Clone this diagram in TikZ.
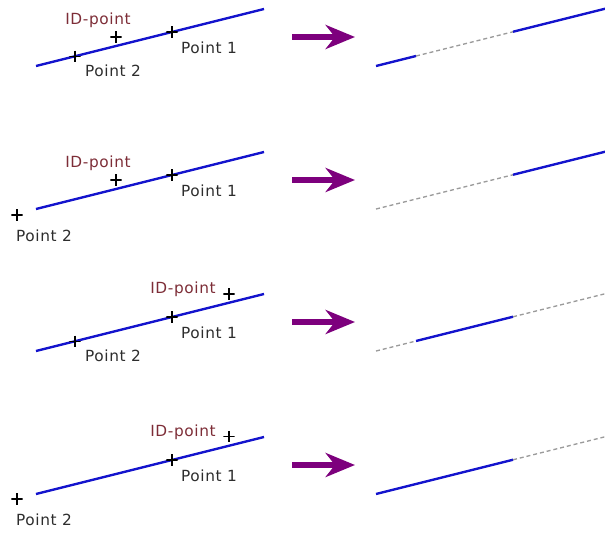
\documentclass[tikz,border=0pt]{standalone}
\usepackage{fontspec}
\newfontfamily\lblfont[LetterSpace=4]{DejaVu Sans}
\usetikzlibrary{arrows.meta}

\definecolor{lineblue}{RGB}{20,20,205}
\definecolor{idred}{RGB}{125,45,55}
\definecolor{arrowpurple}{RGB}{125,0,125}
\definecolor{cutgray}{RGB}{155,155,155}
\definecolor{lblgray}{RGB}{45,45,45}

\begin{document}
\begin{tikzpicture}[x=0.75pt,y=-0.75pt,
  font=\lblfont\fontsize{11.5}{13}\selectfont]
  \useasboundingbox (0,0) rectangle (605,535);

  \tikzset{keep/.style={lineblue,line width=1.8pt},
           drop/.style={cutgray,line width=1pt,dash pattern=on 3pt off 2.2pt},
           move/.style={arrowpurple,line width=3.8pt,
             -{Stealth[length=22pt,width=18pt,inset=7pt]}},
           ptcross/.style={inner sep=0pt,minimum size=8.5pt,
             path picture={\draw[black,line width=1pt]
               (path picture bounding box.north) -- (path picture bounding box.south)
               (path picture bounding box.west) -- (path picture bounding box.east);}},
           idlabel/.style={idred,inner sep=0pt},
           ptlabel/.style={lblgray,inner sep=0pt}}

 % row 1: both points on the line, ID-point between them
  \coordinate (a1) at (36,66);
  \coordinate (b1) at (264,9);
  \draw[keep] (a1) -- (b1);
  \node[ptcross] (pta1) at (172,32) {};
  \node[ptcross] (ptb1) at (75,56.25) {};
  \node[ptcross] (id1) at (116,37) {};
  \node[idlabel] (lid1) at (98,20) {ID-point};
  \node[ptlabel] (lpa1) at (209,48) {Point 1};
  \node[ptlabel] (lpb1) at (113,71) {Point 2};

  \coordinate (s1) at (292,37);
  \coordinate (t1) at (355,37);
  \draw[move] (s1) -- (t1);

  \coordinate (c1) at (376,66);
  \coordinate (e1) at (416,56);
  \coordinate (f1) at (513,31.75);
  \coordinate (d1) at (605,8.75);
  \draw[keep] (c1) -- (e1);
  \draw[drop] (e1) -- (f1);
  \draw[keep] (f1) -- (d1);

 % row 2: point 2 off the line
  \begin{scope}[shift={(0,143)}]
  \coordinate (a2) at (36,66);
  \coordinate (b2) at (264,9);
  \draw[keep] (a2) -- (b2);
  \node[ptcross] (pta2) at (172,32) {};
  \node[ptcross] (ptb2) at (17,72) {};
  \node[ptcross] (id2) at (116,37) {};
  \node[idlabel] (lid2) at (98,20) {ID-point};
  \node[ptlabel] (lpa2) at (209,48) {Point 1};
  \node[ptlabel] (lpb2) at (44,93) {Point 2};

  \coordinate (s2) at (292,37);
  \coordinate (t2) at (355,37);
  \draw[move] (s2) -- (t2);

  \coordinate (c2) at (376,66);
  \coordinate (f2) at (513,31.75);
  \coordinate (d2) at (605,8.75);
  \draw[drop] (c2) -- (f2);
  \draw[keep] (f2) -- (d2);
  \end{scope}

 % row 3: ID-point beyond point 1
  \begin{scope}[shift={(0,285)}]
  \coordinate (a3) at (36,66);
  \coordinate (b3) at (264,9);
  \draw[keep] (a3) -- (b3);
  \node[ptcross] (pta3) at (172,32) {};
  \node[ptcross] (ptb3) at (75,56.25) {};
  \node[ptcross] (id3) at (229,9) {};
  \node[idlabel] (lid3) at (183,4) {ID-point};
  \node[ptlabel] (lpa3) at (209,48) {Point 1};
  \node[ptlabel] (lpb3) at (113,71) {Point 2};

  \coordinate (s3) at (292,37);
  \coordinate (t3) at (355,37);
  \draw[move] (s3) -- (t3);

  \coordinate (c3) at (376,66);
  \coordinate (e3) at (416,56);
  \coordinate (f3) at (513,31.75);
  \coordinate (d3) at (605,8.75);
  \draw[drop] (c3) -- (e3);
  \draw[keep] (e3) -- (f3);
  \draw[drop] (f3) -- (d3);
  \end{scope}

 % row 4: ID-point beyond point 1, point 2 off the line
  \begin{scope}[shift={(0,428)}]
  \coordinate (a4) at (36,66);
  \coordinate (b4) at (264,9);
  \draw[keep] (a4) -- (b4);
  \node[ptcross] (pta4) at (172,32) {};
  \node[ptcross] (ptb4) at (17,71) {};
  \node[ptcross] (id4) at (229,8.5) {};
  \node[idlabel] (lid4) at (183,4) {ID-point};
  \node[ptlabel] (lpa4) at (209,48) {Point 1};
  \node[ptlabel] (lpb4) at (44,92) {Point 2};

  \coordinate (s4) at (292,37);
  \coordinate (t4) at (355,37);
  \draw[move] (s4) -- (t4);

  \coordinate (c4) at (376,66);
  \coordinate (f4) at (513,31.75);
  \coordinate (d4) at (605,8.75);
  \draw[keep] (c4) -- (f4);
  \draw[drop] (f4) -- (d4);
  \end{scope}
\end{tikzpicture}
\end{document}
